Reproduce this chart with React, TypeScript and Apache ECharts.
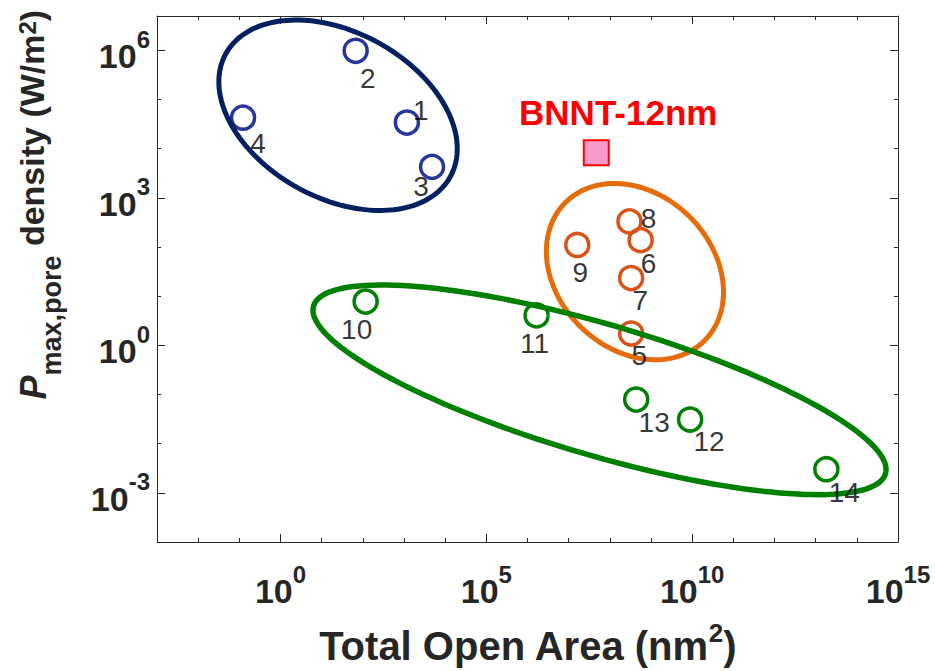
import React, { useEffect, useRef } from 'react';
import * as echarts from 'echarts';

// ---------------- data ----------------
const pointLabels = ['1', '2', '3', '4', '5', '6', '7', '8', '9', '10', '11', '12', '13', '14'];
// Total open area (nm^2)
const openArea = [1175, 67, 4800, 0.123, 3.3e8, 5.6e8, 3.3e8, 3.0e8, 1.62e7, 117, 1.66e6, 8.9e9, 4.37e8, 1.82e13];
// P_max,pore density (W/m^2)
const powerDensity = [3.4e4, 9.8e5, 4270, 4.27e4, 1.74, 138, 23.4, 331, 110, 7.76, 4.07, 0.031, 0.079, 0.00302];
const pointGroup = ['blue', 'blue', 'blue', 'blue', 'orange', 'orange', 'orange', 'orange', 'orange', 'green', 'green', 'green', 'green', 'green'];

const referenceName = 'BNNT-12nm';
const referenceArea = [4.68e7];
const referencePower = [8300];

const xRange = [1e-3, 1e15];
const yRange = [1e-4, 5e6];
const xLabelExponents = [0, 5, 10, 15];
const yLabelExponents = [-3, 0, 3, 6];

// group enclosures (centres in data units)
const enclosureGroup = ['blue', 'orange', 'green'];
const enclosureCenterArea = [25, 4.07e8, 5.62e7];
const enclosureCenterPower = [4.79e4, 31.6, 0.1245];

// ---------------- styles ----------------
const FONT = 'Liberation Sans, Arial, Helvetica, sans-serif';
const AXIS_COLOR = '#262626';
const markerColor: Record<string, string> = { blue: '#28369A', orange: '#D95319', green: '#008000' };
const enclosureStyle: Record<string, { a: number; b: number; tilt: number; color: string; width: number }> = {
  blue: { a: 128, b: 83, tilt: 28.6, color: '#002060', width: 5 },
  orange: { a: 98, b: 77.5, tilt: 44.4, color: '#E46C0A', width: 5 },
  green: { a: 298, b: 65.5, tilt: 16.35, color: '#008000', width: 5.5 },
};
const labelOffsets = [
  [14, -12], [12, 28], [-11, 20], [15, 26], [8, 22], [8, 23], [9, 22],
  [19, -3], [3, 28], [-9, 28], [-2, 28], [19, 22], [18, 23], [18, 23],
];

const lg = (v: number) => Math.log10(v);

function expLabel(list: number[]) {
  return (v: number) => {
    const e = Math.round(v);
    if (Math.abs(v - e) > 1e-6 || list.indexOf(e) < 0) return '';
    return `{b|10}{s|${e}}`;
  };
}

const tickRich = {
  b: { fontSize: 34, fontWeight: 'bold', fontFamily: FONT, color: AXIS_COLOR, lineHeight: 46, verticalAlign: 'bottom' },
  s: { fontSize: 24, fontWeight: 'bold', fontFamily: FONT, color: AXIS_COLOR, lineHeight: 22, verticalAlign: 'top' },
};

function allExps(lo: number, hi: number) {
  const out: number[] = [];
  for (let e = Math.ceil(lo); e <= Math.floor(hi); e++) out.push(e);
  return out;
}

export default function App() {
  const ref = useRef<HTMLDivElement>(null);
  useEffect(() => {
    if (!ref.current) return;
    const chart = echarts.init(ref.current, null, { renderer: 'svg' });
    const xMin = lg(xRange[0]);
    const xMax = lg(xRange[1]);
    const yMin = lg(yRange[0]);
    const yMax = lg(yRange[1]);
    const xMinor = allExps(xMin, xMax);
    const yMinor = allExps(yMin, yMax);
    const lineStyle = { color: AXIS_COLOR, width: 1 };

    const baseX = { type: 'value', min: xMin, max: xMax, interval: 1, splitLine: { show: false } };
    const baseY = { type: 'value', min: yMin, max: yMax, interval: 1, splitLine: { show: false } };

    const xAxis = [
      {
        ...baseX, position: 'bottom',
        axisLine: { show: true, onZero: false, lineStyle },
        axisTick: { show: true, inside: true, length: 8, customValues: xLabelExponents, lineStyle },
        axisLabel: { show: true, margin: 20, customValues: xLabelExponents, formatter: expLabel(xLabelExponents), rich: tickRich },
        name: '{t|Total Open Area (nm}{s|2}{t|)}',
        nameLocation: 'middle',
        nameGap: 78,
        nameTextStyle: {
          rich: {
            t: { fontSize: 40, fontWeight: 'bold', fontFamily: FONT, color: AXIS_COLOR, lineHeight: 46, verticalAlign: 'bottom' },
            s: { fontSize: 26, fontWeight: 'bold', fontFamily: FONT, color: AXIS_COLOR, lineHeight: 24, verticalAlign: 'top' },
          },
        },
      },
      {
        ...baseX, position: 'bottom',
        axisLine: { show: false, onZero: false },
        axisTick: { show: true, inside: true, length: 4, customValues: xMinor, lineStyle },
        axisLabel: { show: false },
      },
      {
        ...baseX, position: 'top',
        axisLine: { show: true, onZero: false, lineStyle },
        axisTick: { show: true, inside: true, length: 8, customValues: xLabelExponents, lineStyle },
        axisLabel: { show: false },
      },
      {
        ...baseX, position: 'top',
        axisLine: { show: false, onZero: false },
        axisTick: { show: true, inside: true, length: 4, customValues: xMinor, lineStyle },
        axisLabel: { show: false },
      },
    ];
    const yAxis = [
      {
        ...baseY, position: 'left',
        axisLine: { show: true, onZero: false, lineStyle },
        axisTick: { show: true, inside: true, length: 8, customValues: yLabelExponents, lineStyle },
        axisLabel: { show: true, margin: 7, customValues: yLabelExponents, formatter: expLabel(yLabelExponents), rich: tickRich },
      },
      {
        ...baseY, position: 'left',
        axisLine: { show: false, onZero: false },
        axisTick: { show: true, inside: true, length: 4, customValues: yMinor, lineStyle },
        axisLabel: { show: false },
      },
      {
        ...baseY, position: 'right',
        axisLine: { show: true, onZero: false, lineStyle },
        axisTick: { show: true, inside: true, length: 8, customValues: yLabelExponents, lineStyle },
        axisLabel: { show: false },
      },
      {
        ...baseY, position: 'right',
        axisLine: { show: false, onZero: false },
        axisTick: { show: true, inside: true, length: 4, customValues: yMinor, lineStyle },
        axisLabel: { show: false },
      },
    ];

    const groups = ['blue', 'orange', 'green'];
    const markerSeries = groups.map((g) => ({
      type: 'scatter',
      name: g,
      z: 2,
      symbol: 'circle',
      symbolSize: 23,
      itemStyle: { color: 'rgba(0,0,0,0)', borderColor: markerColor[g], borderWidth: 3.5, opacity: 1 },
      emphasis: { disabled: true },
      data: openArea
        .map((x, i) => ({ i, x }))
        .filter((d) => pointGroup[d.i] === g)
        .map((d) => ({ name: pointLabels[d.i], value: [lg(d.x), lg(powerDensity[d.i])] })),
    }));

    const labelSeries = {
      type: 'scatter',
      z: 6,
      symbol: 'circle',
      symbolSize: 1,
      itemStyle: { color: 'rgba(0,0,0,0)' },
      emphasis: { disabled: true },
      label: {
        show: true,
        position: 'inside',
        formatter: '{b}',
        fontSize: 28,
        fontFamily: FONT,
        color: '#000000',
      },
      data: openArea.map((x, i) => ({
        name: pointLabels[i],
        value: [lg(x), lg(powerDensity[i])],
        label: { offset: labelOffsets[i] },
      })),
    };

    const referenceSeries = {
      type: 'scatter',
      z: 5,
      symbol: 'rect',
      symbolSize: 25,
      itemStyle: { color: '#F79BCB', borderColor: '#FF0000', borderWidth: 2, opacity: 1 },
      emphasis: { disabled: true },
      label: {
        show: true,
        position: 'inside',
        offset: [22, -40],
        formatter: '{b}',
        fontSize: 35,
        fontWeight: 'bold',
        fontFamily: FONT,
        color: '#FF0000',
      },
      data: referenceArea.map((x, i) => ({ name: referenceName, value: [lg(x), lg(referencePower[i])] })),
    };

    const enclosureSeries = {
      type: 'custom',
      z: 4,
      clip: false,
      silent: true,
      data: enclosureGroup.map((g, i) => [lg(enclosureCenterArea[i]), lg(enclosureCenterPower[i])]),
      renderItem: (params: any, api: any) => {
        const g = enclosureGroup[params.dataIndex];
        const s = enclosureStyle[g];
        const c = api.coord([api.value(0), api.value(1)]);
        const t = (s.tilt * Math.PI) / 180;
        const pts: number[][] = [];
        const n = 160;
        for (let k = 0; k < n; k++) {
          const u = (2 * Math.PI * k) / n;
          const ex = s.a * Math.cos(u);
          const ey = s.b * Math.sin(u);
          pts.push([c[0] + ex * Math.cos(t) - ey * Math.sin(t), c[1] + ex * Math.sin(t) + ey * Math.cos(t)]);
        }
        return {
          type: 'polygon',
          shape: { points: pts },
          style: { fill: 'none', stroke: s.color, lineWidth: s.width },
        };
      },
    };

    chart.setOption({
      animation: false,
      backgroundColor: '#ffffff',
      grid: { left: 157, right: 37, top: 16, bottom: 127, containLabel: false },
      xAxis,
      yAxis,
      graphic: [
        {
          type: 'text',
          x: 40,
          y: 205,
          rotation: Math.PI / 2,
          style: {
            text: '{h| }{p|P}{sub|max,pore}{m| density (W/m}{sup|2}{m|)}',
            align: 'center',
            verticalAlign: 'middle',
            rich: {
              h: { fontSize: 2, lineHeight: 50, verticalAlign: 'top' },
              p: { fontSize: 36, fontWeight: 'bold', fontStyle: 'italic', fontFamily: FONT, fill: AXIS_COLOR, lineHeight: 36, verticalAlign: 'top' },
              sub: { fontSize: 27, fontWeight: 'bold', fontFamily: FONT, fill: AXIS_COLOR, lineHeight: 26, verticalAlign: 'bottom' },
              m: { fontSize: 34, fontWeight: 'bold', fontFamily: FONT, fill: AXIS_COLOR, lineHeight: 36, verticalAlign: 'top' },
              sup: { fontSize: 24, fontWeight: 'bold', fontFamily: FONT, fill: AXIS_COLOR, lineHeight: 24, verticalAlign: 'top' },
            },
          },
        },
      ],
      series: [...markerSeries, enclosureSeries, labelSeries, referenceSeries],
    });
    return () => chart.dispose();
  }, []);
  return <div ref={ref} style={{ position: 'absolute', left: 0, top: 0, width: 935, height: 671 }} />;
}
